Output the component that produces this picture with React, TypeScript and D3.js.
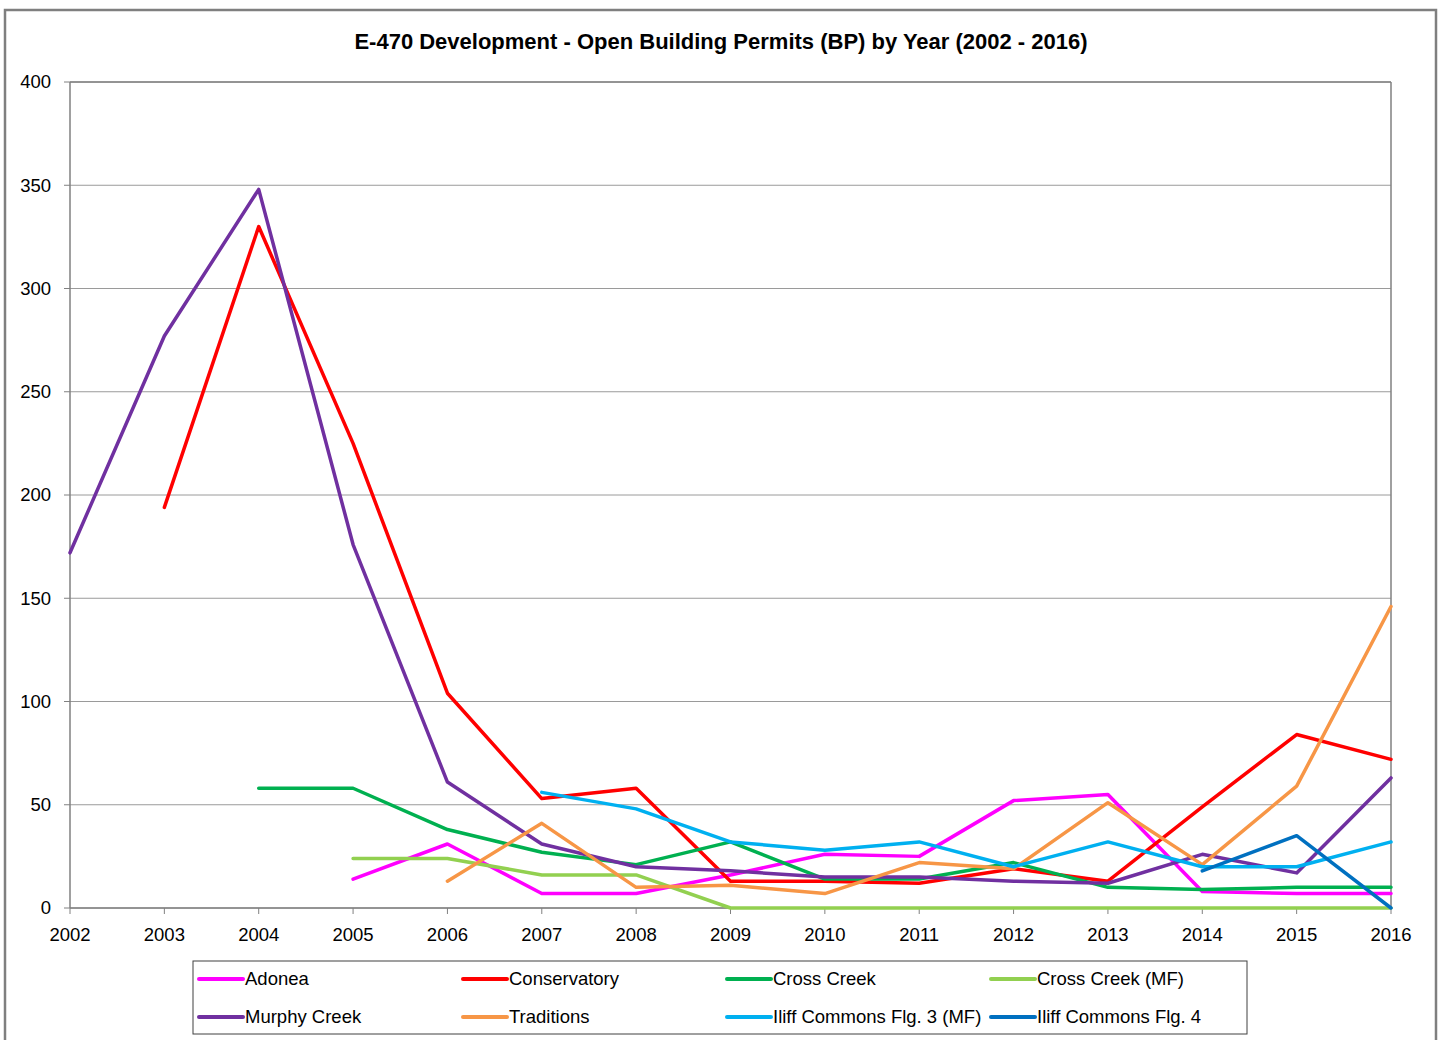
import React from "react";
import * as d3 from "d3";

const years = [2002, 2003, 2004, 2005, 2006, 2007, 2008, 2009, 2010, 2011, 2012, 2013, 2014, 2015, 2016];
const yTicks = [0, 50, 100, 150, 200, 250, 300, 350, 400];

type Val = number | null;

const adonea: Val[] = [null, null, null, 14, 31, 7, 7, 16, 26, 25, 52, 55, 8, 7, 7];
const conservatory: Val[] = [null, 194, 330, 225, 104, 53, 58, 13, 13, 12, 19, 13, 49, 84, 72];
const crossCreek: Val[] = [null, null, 58, 58, 38, 27, 21, 32, 14, 14, 22, 10, 9, 10, 10];
const crossCreekMF: Val[] = [null, null, null, 24, 24, 16, 16, 0, 0, 0, 0, 0, 0, 0, 0];
const murphyCreek: Val[] = [172, 277, 348, 176, 61, 31, 20, 18, 15, 15, 13, 12, 26, 17, 63];
const traditions: Val[] = [null, null, null, null, 13, 41, 10, 11, 7, 22, 19, 51, 21, 59, 146];
const iliff3: Val[] = [null, null, null, null, null, 56, 48, 32, 28, 32, 20, 32, 20, 20, 32];
const iliff4: Val[] = [null, null, null, null, null, null, null, null, null, null, null, null, 18, 35, 0];

const seriesNames = [
  "Adonea",
  "Conservatory",
  "Cross Creek",
  "Cross Creek (MF)",
  "Murphy Creek",
  "Traditions",
  "Iliff Commons Flg. 3 (MF)",
  "Iliff Commons Flg. 4",
];
const seriesValues = [adonea, conservatory, crossCreek, crossCreekMF, murphyCreek, traditions, iliff3, iliff4];
const seriesColors = ["#FF00FF", "#FF0000", "#00B050", "#92D050", "#7030A0", "#F79646", "#00B0F0", "#0070C0"];

const W = 1442;
const H = 1040;
const plot = { left: 70, right: 1391, top: 82, bottom: 908 };
const FONT = "'Liberation Sans', Arial, sans-serif";

export default function App() {
  const x = d3.scaleLinear().domain([2002, 2016]).range([plot.left, plot.right]);
  const y = d3.scaleLinear().domain([0, 400]).range([plot.bottom, plot.top]);

  const line = d3
    .line<Val>()
    .defined((d) => d != null)
    .x((_, i) => x(years[i]))
    .y((d) => y(d as number));

  // legend layout: 4 columns, 2 rows
  const legend = { x: 193, y: 961, w: 1054, h: 73, colW: 264, rowY: [979, 1017] };

  return (
    <div style={{ position: "fixed", left: 0, top: 0, width: W, height: H, overflow: "hidden" }}>
      <svg width={W} height={H} style={{ display: "block", background: "#fff" }}>
        <rect x={5} y={10} width={1431} height={1040} fill="#fff" stroke="#7f7f7f" strokeWidth={2.5} />
        <text
          x={721}
          y={49}
          textAnchor="middle"
          fontFamily={FONT}
          fontWeight="bold"
          fontSize={22}
          fill="#000"
        >
          E-470 Development - Open Building Permits (BP) by Year (2002 - 2016)
        </text>

        {/* gridlines */}
        {yTicks.map((t) => (
          <line key={`g${t}`} x1={plot.left} x2={plot.right} y1={y(t)} y2={y(t)} stroke="#9a9a9a" strokeWidth={1} />
        ))}
        <line x1={plot.left} x2={plot.right} y1={plot.top} y2={plot.top} stroke="#808080" strokeWidth={1.5} />
        <line x1={plot.right} x2={plot.right} y1={plot.top} y2={plot.bottom} stroke="#808080" strokeWidth={1.5} />

        {/* y axis */}
        <line x1={plot.left} x2={plot.left} y1={plot.top} y2={plot.bottom} stroke="#808080" strokeWidth={1.5} />
        {yTicks.map((t) => (
          <g key={`y${t}`}>
            <line x1={plot.left - 6} x2={plot.left} y1={y(t)} y2={y(t)} stroke="#808080" strokeWidth={1} />
            <text
              x={51}
              y={y(t)}
              dy="0.35em"
              textAnchor="end"
              fontFamily={FONT}
              fontSize={18.5}
              fill="#000"
            >
              {t}
            </text>
          </g>
        ))}

        {/* x axis */}
        <line x1={plot.left} x2={plot.right} y1={plot.bottom} y2={plot.bottom} stroke="#808080" strokeWidth={1.5} />
        {years.map((yr) => (
          <g key={`x${yr}`}>
            <line x1={x(yr)} x2={x(yr)} y1={plot.bottom} y2={plot.bottom + 6} stroke="#808080" strokeWidth={1} />
            <text
              x={x(yr)}
              y={941}
              textAnchor="middle"
              fontFamily={FONT}
              fontSize={18.5}
              fill="#000"
            >
              {yr}
            </text>
          </g>
        ))}

        {/* series */}
        {seriesValues.map((vals, i) => (
          <path
            key={seriesNames[i]}
            d={line(vals) ?? ""}
            fill="none"
            stroke={seriesColors[i]}
            strokeWidth={3.5}
            strokeLinejoin="round"
            strokeLinecap="round"
          />
        ))}

        {/* legend */}
        <rect x={legend.x} y={legend.y} width={legend.w} height={legend.h} fill="#fff" stroke="#404040" strokeWidth={1} />
        {seriesNames.map((name, i) => {
          const col = i % 4;
          const row = Math.floor(i / 4);
          const lx = 199 + col * legend.colW;
          const ly = legend.rowY[row];
          return (
            <g key={`l${name}`}>
              <line x1={lx} x2={lx + 44} y1={ly} y2={ly} stroke={seriesColors[i]} strokeWidth={4} strokeLinecap="round" />
              <text x={lx + 46} y={ly} dy="0.35em" fontFamily={FONT} fontSize={18.5} fill="#000">
                {name}
              </text>
            </g>
          );
        })}
      </svg>
    </div>
  );
}
